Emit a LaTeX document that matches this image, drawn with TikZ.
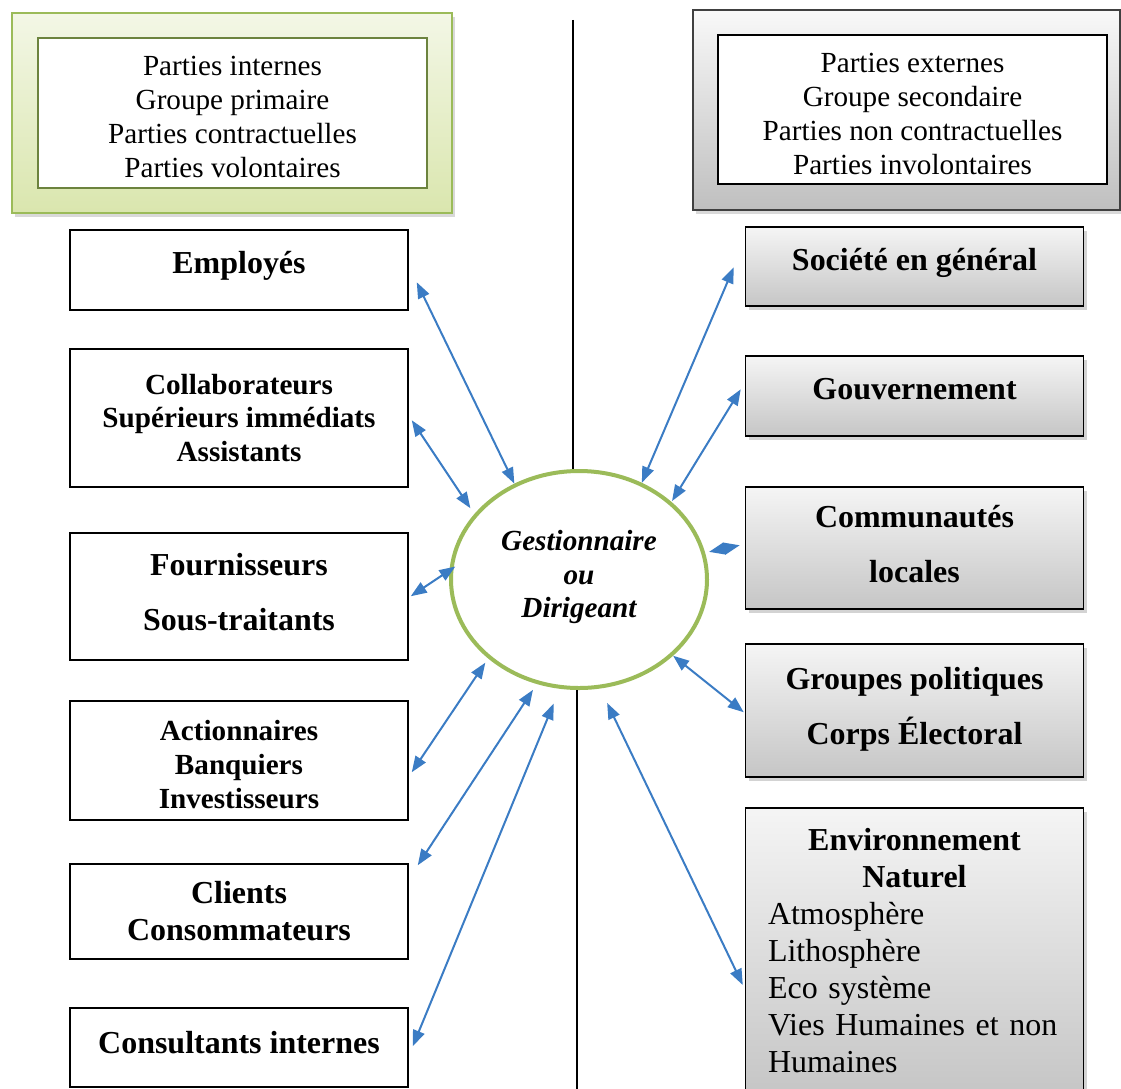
\documentclass[tikz,border=0pt]{standalone}
\usepackage{fontspec}
\setmainfont{Liberation Serif}
\usetikzlibrary{shapes.geometric,arrows.meta,shadows}
\definecolor{leafgreen}{HTML}{9BBB59}
\definecolor{paleleaf}{HTML}{F3F7E6}
\definecolor{deepleaf}{HTML}{DAE6AE}
\definecolor{linkblue}{HTML}{3B7CC4}
\newcommand\pxl{0.02cm}
\newcommand\dropstrut[1]{\rule{0pt}{#1}}

\begin{document}
\begin{tikzpicture}[x=0.02cm, y=-0.02cm,
	every node/.style={inner sep=0pt, font=\fontsize{16.6}{19.3}\selectfont},
	plainbox/.style={draw, line width=0.03cm, fill=white, align=center,
		font=\fontsize{18.2}{21}\selectfont\bfseries, minimum width=338*\pxl},
	smallbold/.style={font=\fontsize{16.6}{19.3}\selectfont\bfseries},
	greybox/.style={plainbox, top color=gray!8, bottom color=gray!45,
		drop shadow={shadow xshift=0.06cm, shadow yshift=-0.08cm, opacity=0.35}},
	link/.style={linkblue, line width=0.04cm,
		{Triangle[length=0.32cm,width=0.24cm]}-{Triangle[length=0.32cm,width=0.24cm]}}]
%Picture in pixels of the 1121x1088 reference:
% left  = internal parties (white boxes)
% right = external parties (grey boxes)
% centre = manager
% (text depth / \dropstrut only nudge a text up or down in its box)
\useasboundingbox (0,0) rectangle (1121,1088);

% headers
\node (intout) [draw=leafgreen, line width=0.03cm, top color=paleleaf, bottom color=deepleaf,
	drop shadow={shadow xshift=0.06cm, shadow yshift=-0.08cm, opacity=0.3},
	minimum width=440*\pxl, minimum height=200*\pxl] at (232,113) {};
\node (intin) [draw=leafgreen!70!black, line width=0.03cm, fill=white, align=center,
	minimum width=389*\pxl, minimum height=150*\pxl] at (232.5,113)
	{\dropstrut{15.8pt}Parties internes\\Groupe primaire\\Parties contractuelles\\Parties volontaires};
\node (extout) [draw=black!75, line width=0.03cm, top color=gray!5, bottom color=gray!50,
	drop shadow={shadow xshift=0.06cm, shadow yshift=-0.08cm, opacity=0.3},
	minimum width=427*\pxl, minimum height=200*\pxl] at (906.5,110) {};
\node (extin) [draw, line width=0.03cm, fill=white, align=center,
	minimum width=389*\pxl, minimum height=149*\pxl] at (912.5,109.5)
	{\dropstrut{15.8pt}Parties externes\\Groupe secondaire\\Parties non contractuelles\\Parties involontaires};

% dividing line
\coordinate (ltop) at (573,20);
\coordinate (lbot) at (577,1100);

% manager
\node (mgr) [ellipse, draw=leafgreen, line width=0.08cm, fill=white, align=center,
	minimum width=256*\pxl, minimum height=217*\pxl, text depth=6.4pt,
	font=\fontsize{16.6}{19}\selectfont\bfseries\itshape] at (579,579.5)
	{Gestionnaire\\ou\\Dirigeant};
\draw [line width=0.035cm] (ltop) -- (ltop |- mgr.north);
\draw [line width=0.035cm] (lbot) -- (lbot |- mgr.south);

% internal parties
\node (emp) [plainbox, minimum height=80*\pxl, text depth=8.5pt] at (239,270) {Employés};
\node (col) [plainbox, smallbold, minimum height=138*\pxl] at (239,418)
	{Collaborateurs\\Supérieurs immédiats\\Assistants};
\node (fou) [plainbox, minimum height=127*\pxl, text depth=5.7pt] at (239,596.5)
	{Fournisseurs\\[0.36cm]Sous-traitants};
\node (act) [plainbox, smallbold, minimum height=119*\pxl] at (239,760.5)
	{\dropstrut{16pt}Actionnaires\\Banquiers\\Investisseurs};
\node (cli) [plainbox, minimum height=95*\pxl] at (239,911.5)
	{Clients\\Consommateurs};
\node (con) [plainbox, minimum height=79*\pxl, text depth=5.7pt] at (239,1047.5)
	{Consultants internes};

% external parties
\node (soc) [greybox, minimum height=79*\pxl, text depth=8.5pt] at (914.5,266.5)
	{Société en général};
\node (gov) [greybox, minimum height=80*\pxl, text depth=8pt] at (914.5,396) {Gouvernement};
\node (com) [greybox, minimum height=122*\pxl, text depth=4.5pt] at (914.5,548)
	{Communautés\\[0.36cm]locales};
\node (grp) [greybox, minimum height=133*\pxl, text depth=5pt] at (914.5,710.5)
	{Groupes politiques\\[0.36cm]Corps Électoral};
\node (env) [greybox, anchor=north, align=left, text width=293*\pxl,
	inner xsep=22*\pxl, inner ysep=21*\pxl, font=\fontsize{18.2}{21}\selectfont] at (914.5,807)
	{{\centering\bfseries Environnement\\Naturel\par}Atmosphère\\Lithosphère\\Eco système\\Vies Humaines et non\\Humaines};

% links
\foreach \b/\dx/\dy/\a/\sh in {emp/8/53/124/0, col/3/72/148/7, fou/2/64/176/-7,
		act/3/72/221/5, cli/9/2/248/7, con/4/39/260/16}
	\draw [link, shorten >=\sh*\pxl] ([shift={(\dx,\dy)}]\b.north east) -- (mgr.\a);
\foreach \b/\dx/\dy/\a/\sh in {soc/-11/41/57/0, gov/-4/34/40/1, com/-5/59/12/4,
		grp/-1/69/321/0, env/-2/178/281/16}
	\draw [link, shorten >=\sh*\pxl] ([shift={(\dx,\dy)}]\b.north west) -- (mgr.\a);

\end{tikzpicture}
\end{document}
